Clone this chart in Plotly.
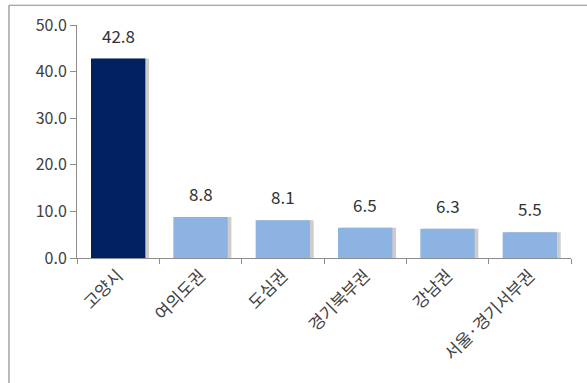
import plotly.graph_objects as go

categories = ["고양시", "여의도권", "도심권", "경기북부권", "강남권", "서울·경기서부권"]
values = [42.8, 8.8, 8.1, 6.5, 6.3, 5.5]
bar_colors = ["#002060", "#8DB3E2", "#8DB3E2", "#8DB3E2", "#8DB3E2", "#8DB3E2"]
y_ticks = [0, 10, 20, 30, 40, 50]
y_tick_labels = ["0.0", "10.0", "20.0", "30.0", "40.0", "50.0"]

FONT = "Noto Sans CJK KR"
BAR_W = 0.66

fig = go.Figure()

# soft drop shadow behind each bar (right side)
fig.add_trace(go.Bar(
    x=categories, y=values, width=BAR_W, offset=-BAR_W / 2 + 0.045,
    marker=dict(color="rgba(120,110,110,0.35)", line=dict(width=0)),
    hoverinfo="skip", showlegend=False,
))
fig.add_trace(go.Bar(
    x=categories, y=values, width=BAR_W, offset=-BAR_W / 2,
    marker=dict(color=bar_colors, line=dict(width=0)),
    showlegend=False,
))

for c, v in zip(categories, values):
    fig.add_annotation(
        x=c, y=v, text=f"{v:.1f}", showarrow=False,
        yanchor="bottom", yshift=9,
        font=dict(family=FONT, size=17, color="#333333"),
    )

fig.update_layout(
    width=587, height=383,
    margin=dict(l=77, r=16, t=22, b=125),
    paper_bgcolor="white", plot_bgcolor="white",
    barmode="overlay", bargap=0.34,
    font=dict(family=FONT, size=16, color="#404040"),
    xaxis=dict(
        type="category", tickson="boundaries", ticks="outside", ticklen=5,
        tickcolor="#8c8c8c", showline=True, linecolor="#8c8c8c", linewidth=1,
        showgrid=False, tickangle=-45,
        tickfont=dict(family=FONT, size=17, color="#404040"),
        range=[-0.5, 5.5],
    ),
    yaxis=dict(
        range=[0, 50], tickvals=y_ticks, ticktext=y_tick_labels,
        ticks="outside", ticklen=6, tickcolor="#8c8c8c",
        showline=True, linecolor="#8c8c8c", linewidth=1,
        showgrid=False, zeroline=False,
        tickfont=dict(family=FONT, size=16, color="#404040"),
    ),
    shapes=[
        # outer chart frame (left and top edges)
        dict(type="line", xref="paper", yref="paper",
             x0=-0.1377, x1=-0.1377, y0=-0.6, y1=1.0847,
             line=dict(color="#8c8c8c", width=1.2)),
        dict(type="line", xref="paper", yref="paper",
             x0=-0.1377, x1=1.05, y0=1.0847, y1=1.0847,
             line=dict(color="#8c8c8c", width=1.2)),
    ],
)

fig.write_html("out.html")
